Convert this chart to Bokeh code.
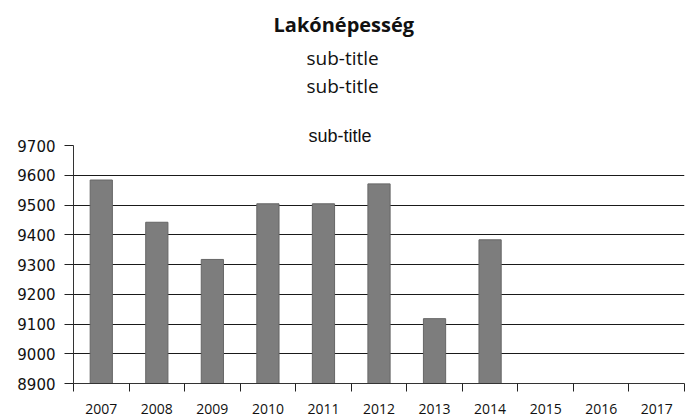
from bokeh.plotting import figure
from bokeh.layouts import column
from bokeh.models import Title, FixedTicker, ColumnDataSource, Range1d
from bokeh.embed import file_html
from bokeh.resources import INLINE

# ---- data ----
years = ["2007", "2008", "2009", "2010", "2011", "2012", "2013", "2014", "2015", "2016", "2017"]
population = [9584, 9442, 9317, 9504, 9504, 9571, 9118, 9383, None, None, None]
y_ticks = [8900, 9000, 9100, 9200, 9300, 9400, 9500, 9600, 9700]
main_title = "Lakónépesség"
subtitle = "sub-title"
plot_title = "sub-title"

idx = list(range(len(years)))
xs = [i for i, v in zip(idx, population) if v is not None]
tops = [v for v in population if v is not None]
source = ColumnDataSource(dict(x=xs, top=tops, bottom=[y_ticks[0]] * len(tops)))

# ---- header block: main title and two sub-titles ----
head = figure(width=686, height=104, output_backend="svg", toolbar_location=None,
              x_axis_location=None, y_axis_location=None,
              min_border_left=73, min_border_right=2, min_border_top=98, min_border_bottom=0)
head.grid.visible = False
head.outline_line_color = None
head.title.text = main_title
head.title.text_font = "Open Sans"
head.title.text_font_size = "20px"
head.title.text_font_style = "bold"
head.title.text_color = "#111111"
head.title.align = "left"
head.title.offset = 200
head.title.standoff = 9
for _ in range(2):
    head.add_layout(Title(text=subtitle, text_font="Open Sans", text_font_size="19px",
                          text_font_style="normal", text_color="#111111",
                          align="left", offset=233, standoff=0), "above")

# ---- chart ----
p = figure(width=686, height=316,
           x_range=Range1d(-0.5, len(years) - 0.5),
           y_range=Range1d(y_ticks[0], y_ticks[-1]),
           output_backend="svg", toolbar_location=None,
           min_border_left=73, min_border_right=2,
           min_border_top=41, min_border_bottom=37)

p.title.text = plot_title
p.title.text_font = "Liberation Sans"
p.title.text_font_size = "18px"
p.title.text_font_style = "normal"
p.title.text_color = "#111111"
p.title.align = "left"
p.title.offset = 235
p.title.standoff = 0

p.vbar(x="x", top="top", bottom="bottom", width=0.4, source=source,
       fill_color="#7d7d7d", line_color="#666666", line_width=1)

# x axis: labels at category centres, tick marks between categories
xaxis = p.below[0]
xaxis.ticker = FixedTicker(ticks=idx, minor_ticks=[i - 0.5 for i in range(len(years) + 1)])
xaxis.major_label_overrides = {i: y for i, y in enumerate(years)}
xaxis.major_tick_line_color = None
xaxis.major_tick_out = 0
xaxis.major_tick_in = 0
xaxis.minor_tick_out = 8
xaxis.minor_tick_in = 0
xaxis.minor_tick_line_color = "#222222"
xaxis.minor_tick_line_width = 1
xaxis.axis_line_color = "#333333"
xaxis.major_label_text_font = "Open Sans"
xaxis.major_label_text_font_size = "14px"
xaxis.major_label_text_color = "#111111"
xaxis.major_label_standoff = 12

yaxis = p.left[0]
yaxis.ticker = FixedTicker(ticks=y_ticks)
yaxis.minor_tick_line_color = None
yaxis.major_tick_out = 9
yaxis.major_tick_in = 0
yaxis.major_tick_line_color = "#222222"
yaxis.axis_line_color = "#333333"
yaxis.major_label_text_font = "DejaVu Sans"
yaxis.major_label_text_font_size = "15px"
yaxis.major_label_text_color = "#111111"
yaxis.major_label_standoff = 9

p.xgrid.grid_line_color = None
p.ygrid.ticker = FixedTicker(ticks=y_ticks)
p.ygrid.grid_line_color = "#1a1a1a"
p.ygrid.grid_line_width = 1

p.outline_line_color = None
p.background_fill_color = "white"
p.border_fill_color = "white"

layout = column(head, p, spacing=0)
open("out.html", "w").write(file_html(layout, INLINE))
